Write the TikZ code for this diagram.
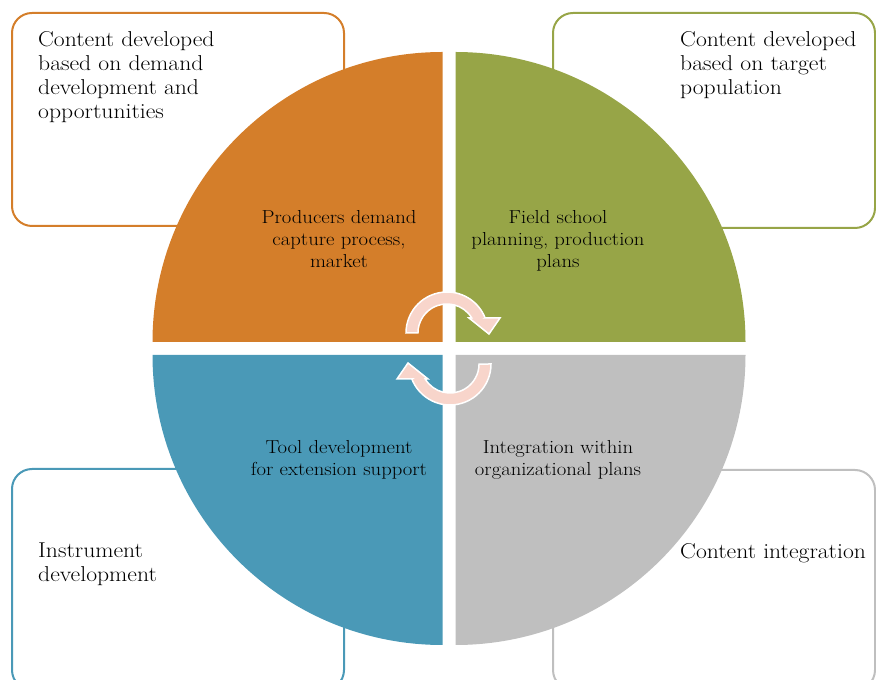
\documentclass[tikz,border=0pt]{standalone}
\usepackage{fontspec}
\setmainfont{Latin Modern Roman}[FakeStretch=1.1]
\usepackage{tikz}

\definecolor{demandorange}{HTML}{D47E2A}
\definecolor{fieldgreen}{HTML}{97A547}
\definecolor{toolblue}{HTML}{4A99B7}
\definecolor{integgray}{HTML}{BFBFBF}
\definecolor{cyclepink}{HTML}{F8D5CB}

\tikzset{
  outerbox/.style={line width=2pt,rounded corners=20pt},
  boxtext/.style={align=left,inner sep=0pt,font=\fontsize{21.5}{24}\selectfont},
  quadtext/.style={align=center,inner sep=0pt,font=\fontsize{18.8}{22}\selectfont},
  cyclearrow/.style={fill=cyclepink,draw=white,line width=1.5pt,line join=miter}
}

\newcommand{\cyclepath}{%
  (180:41) arc[start angle=180,end angle=21.5,radius=41]
  -- (38.1,15) -- (53,15) -- (42,-1) -- (22,15) -- (24.8,15)
  arc[start angle=31.1,end angle=180,radius=29] -- cycle}

\begin{document}
\begin{tikzpicture}[x=1pt,y=1pt]

      \useasboundingbox (0,0) rectangle (876,680);
      \clip (0,0) rectangle (876,680);

      % outer boxes
      \draw[outerbox,demandorange] (12,454) rectangle (344,667);
      \draw[outerbox,fieldgreen]   (553,452) rectangle (875,667);
      \draw[outerbox,toolblue]     (12,-10) rectangle (344,211);
      \draw[outerbox,integgray]    (553,-10) rectangle (875,210);

      % quadrants
      \fill[demandorange] (442.5,338) -- ++(-290,0) arc[start angle=180,end angle=90,radius=290] -- cycle;
      \fill[fieldgreen]   (455.5,338) -- ++(0,290) arc[start angle=90,end angle=0,radius=290] -- cycle;
      \fill[toolblue]     (442.5,325) -- ++(0,-290) arc[start angle=270,end angle=180,radius=290] -- cycle;
      \fill[integgray]    (455.5,325) -- ++(290,0) arc[start angle=0,end angle=-90,radius=290] -- cycle;

      % cycle arrows
      \begin{scope}[shift={(447,347)}]
        \path[cyclearrow] \cyclepath;
      \end{scope}
      \begin{scope}[shift={(450,316)},rotate=180]
        \path[cyclearrow] \cyclepath;
      \end{scope}

      \begin{scope}[every node/.style={boxtext,anchor=north west}]
        \node (demandbox) at (38,649)  {Content developed\\based on demand\\development and\\opportunities};
        \node (fieldbox)  at (680,649) {Content developed\\based on target\\population};
        \node (toolbox)   at (38,137)  {Instrument\\development};
        \node (integbox)  at (680,137) {Content integration};
      \end{scope}

      \begin{scope}[every node/.style={quadtext,anchor=north}]
        \node (demand) at (339,470) {Producers demand\\capture process,\\market};
        \node (field)  at (558,470) {Field school\\planning, production\\plans};
        \node (tool)   at (339,240) {Tool development\\for extension support};
        \node (integ)  at (558,240) {Integration within\\organizational plans};
      \end{scope}

    \end{tikzpicture}
\end{document}
